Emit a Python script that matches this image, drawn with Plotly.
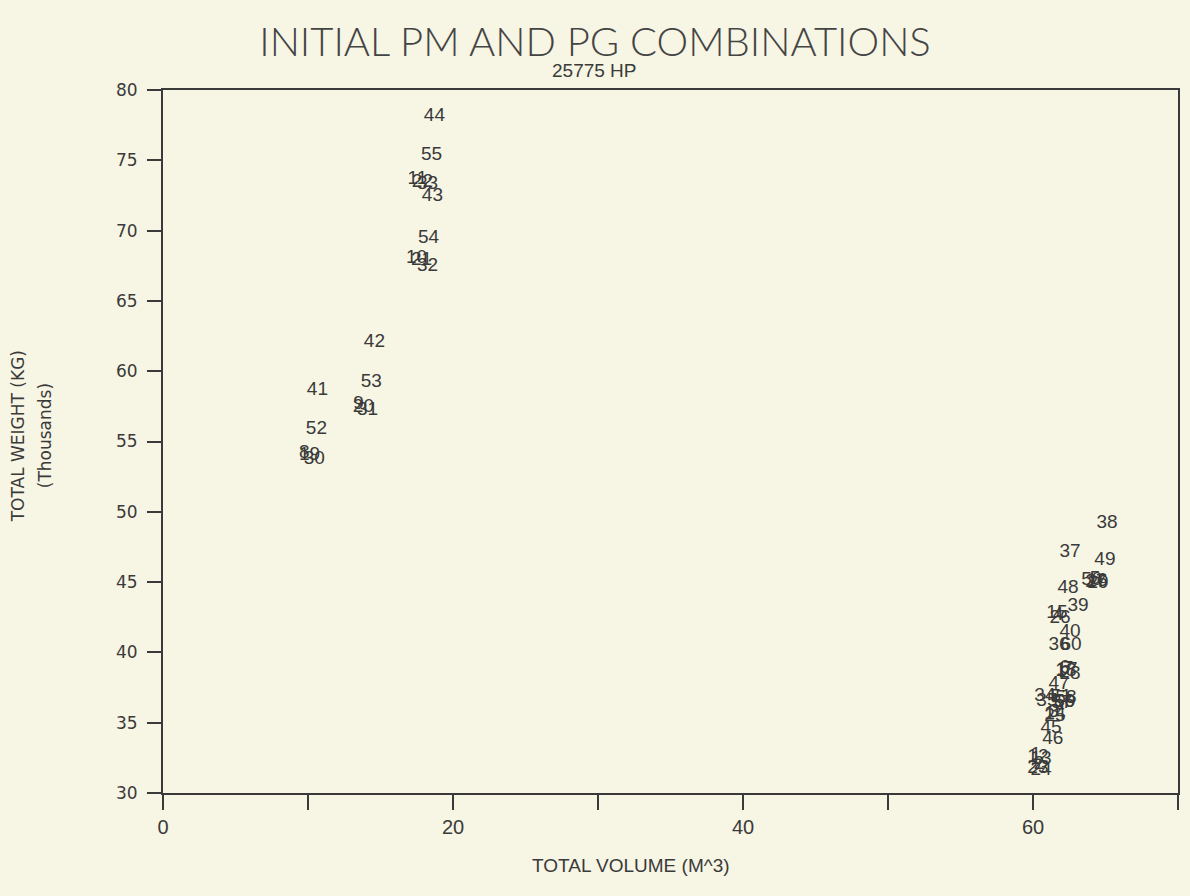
import plotly.graph_objects as go

# Combination IDs and their (volume, weight) values
ids = [44, 55, 11, 22, 33, 43, 54, 10, 21, 32, 42, 53, 41, 9, 20, 31, 52, 8, 19, 30,
       38, 37, 49, 50, 29, 5, 16, 27, 48, 39, 15, 26, 4, 40, 36, 60,
       6, 17, 28, 7, 18, 47, 34, 35, 51, 56, 57, 58, 59,
       3, 14, 25, 45, 46, 1, 12, 2, 13, 23, 24]
volume = [18.72, 18.52, 17.55, 17.89, 18.24, 18.58, 18.31, 17.48, 17.83, 18.24,
          14.58, 14.37, 10.65, 13.48, 13.82, 14.10, 10.58, 9.75, 10.10, 10.44,
          65.10, 62.55, 64.96, 64.06, 64.48, 64.27, 64.41, 64.34, 62.41, 63.10,
          61.65, 61.86, 61.72, 62.55, 61.79, 62.62,
          62.20, 62.34, 62.55, 62.41, 62.27, 61.79, 60.82, 60.96,
          61.93, 62.13, 61.99, 62.27, 62.20,
          61.44, 61.51, 61.51, 61.24, 61.37, 60.20, 60.34, 60.41, 60.55, 60.34, 60.55]
weight = [78.10, 75.33, 73.62, 73.41, 73.27, 72.41, 69.49, 68.00, 67.86, 67.50,
          62.03, 59.18, 58.61, 57.62, 57.47, 57.19, 55.84, 54.20, 53.99, 53.77,
          49.22, 47.09, 46.52, 45.10, 44.89, 45.17, 45.03, 44.96, 44.53, 43.25,
          42.82, 42.40, 42.61, 41.40, 40.48, 40.48,
          38.84, 38.70, 38.42, 38.77, 38.63, 37.77, 36.85, 36.56,
          36.78, 36.49, 36.35, 36.71, 36.42,
          35.71, 35.57, 35.43, 34.64, 33.79, 32.65, 32.51, 32.08, 32.37, 31.79, 31.65]

x_ticks = [0, 10, 20, 30, 40, 50, 60, 70]
x_ticktext = ["0", "", "20", "", "40", "", "60", ""]
y_ticks = [30, 35, 40, 45, 50, 55, 60, 65, 70, 75, 80]

ink = "#3a3a3a"
bg = "#f7f5e4"
W, H = 1190, 896
ML, MR, MT, MB = 163, 10, 90, 103
PW, PH = W - ML - MR, H - MT - MB

fig = go.Figure(go.Scatter(
    x=volume, y=weight, mode="text", text=[str(i) for i in ids],
    textposition="middle center",
    textfont=dict(family="Liberation Sans, Arial, sans-serif", size=19, color=ink),
    cliponaxis=False, hoverinfo="skip",
))

fig.update_layout(
    width=W, height=H,
    paper_bgcolor=bg, plot_bgcolor=bg,
    margin=dict(l=ML, r=MR, t=MT, b=MB),
    showlegend=False,
    title=dict(text="INITIAL PM AND PG COMBINATIONS", x=(595 - 0) / W, xanchor="center",
               y=1 - 42 / H, yanchor="middle",
               font=dict(family="Lato, Liberation Sans, Arial", size=40, color="#444444", weight=300)),
    annotations=[
        dict(text="25775 HP", xref="paper", yref="paper", x=(595 - ML) / PW,
             y=1 + 20 / PH, xanchor="center", yanchor="middle", showarrow=False,
             font=dict(family="Liberation Sans, Arial", size=19, color=ink)),
        dict(text="TOTAL VOLUME (M^3)", xref="paper", yref="paper", x=(632 - ML) / PW,
             y=-72 / PH, xanchor="center", yanchor="middle", showarrow=False,
             font=dict(family="Liberation Sans, Arial", size=19, color=ink)),
        dict(text="TOTAL WEIGHT (KG)", xref="paper", yref="paper", x=-(ML - 18) / PW,
             y=(793 - 436) / PH, xanchor="center", yanchor="middle", showarrow=False, textangle=-90,
             font=dict(family="DejaVu Sans, sans-serif", size=17, color=ink)),
        dict(text="(Thousands)", xref="paper", yref="paper", x=-(ML - 45) / PW,
             y=(793 - 436) / PH, xanchor="center", yanchor="middle", showarrow=False, textangle=-90,
             font=dict(family="DejaVu Sans, sans-serif", size=17, color=ink)),
    ],
)

fig.update_xaxes(range=[0, 70], tickvals=x_ticks, ticktext=x_ticktext,
                 ticks="outside", ticklen=15, tickwidth=1.5, tickcolor=ink,
                 showgrid=False, zeroline=False, showline=True, linecolor=ink, linewidth=1.8,
                 mirror=True, ticklabelstandoff=0,
                 tickfont=dict(family="Liberation Sans, Arial", size=20, color=ink))
fig.update_yaxes(range=[30, 80], tickvals=y_ticks,
                 ticks="outside", ticklen=14, tickwidth=1.5, tickcolor=ink,
                 showgrid=False, zeroline=False, showline=True, linecolor=ink, linewidth=1.8,
                 mirror=True, ticklabelstandoff=6,
                 tickfont=dict(family="DejaVu Sans, sans-serif", size=17, color=ink))

fig.write_html("out.html", config={"displayModeBar": False},
               post_script="document.body.style.margin='0';document.body.style.overflow='hidden';")
